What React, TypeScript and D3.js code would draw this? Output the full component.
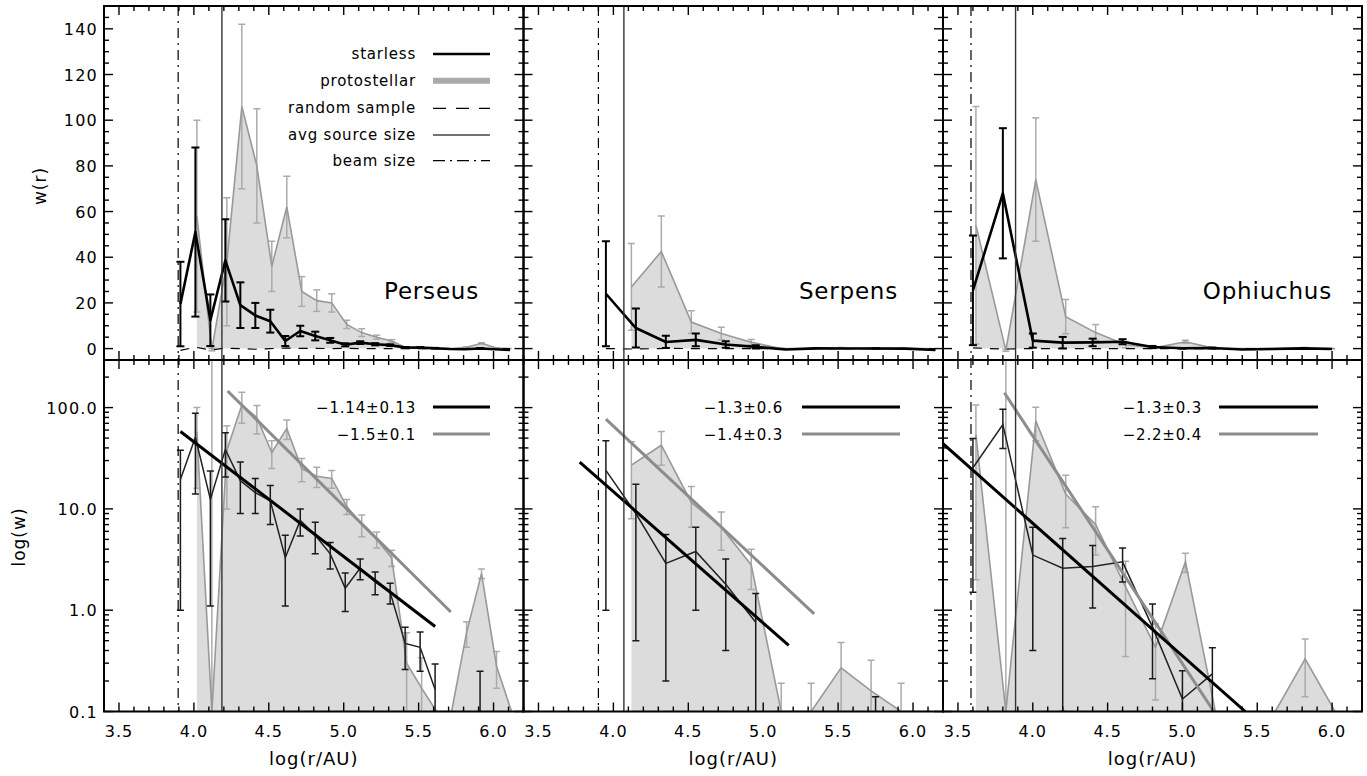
import React, { useEffect, useRef } from "react";
import * as d3 from "d3";

// ---- values ----
const regionNames = ["Perseus", "Serpens", "Ophiuchus"];

// Perseus
const perseusStarlessX = [3.91, 4.01, 4.11, 4.21, 4.31, 4.41, 4.51, 4.61, 4.71, 4.81, 4.91, 5.01, 5.11, 5.21, 5.31, 5.41, 5.51, 5.61, 5.71, 5.81, 5.91, 6.01, 6.11];
const perseusStarlessW = [19.5, 51, 12.4, 38.6, 19, 14.5, 12, 3.3, 7.7, 5.5, 3.6, 1.65, 2.6, 1.9, 1.5, 0.47, 0.43, 0.165, -0.2, -0.3, 0.05, -0.3, -0.6];
const perseusStarlessErr = [18.5, 37, 11.3, 18, 10, 5.5, 5, 2.2, 2.3, 1.9, 1.05, 0.68, 0.6, 0.48, 0.35, 0.21, 0.18, 0.13, 0, 0, 0.2, 0, 0];
const perseusProtoX = [4.02, 4.12, 4.22, 4.32, 4.42, 4.52, 4.62, 4.72, 4.82, 4.92, 5.02, 5.12, 5.22, 5.32, 5.42, 5.52, 5.62, 5.72, 5.82, 5.92, 6.02, 6.12];
const perseusProtoW = [58, -0.5, 38, 106, 80, 36, 62, 25, 21, 20, 10.6, 7, 5, 3.3, 0.3, 0.17, 0, 0, 0.6, 2.3, 0.28, 0];
const perseusProtoErr = [42, 0.5, 28, 36, 25, 11, 13.5, 6.5, 4.7, 4, 1.8, 1.7, 0.9, 0.6, 0.3, 0.17, 0, 0, 0.17, 0.25, 0.11, 0];
const perseusRandomW = [-0.8, 0.6, -0.6, 0.2, 0, -0.3, 0, 0.2, 0.1, 0.1, 0, 0.1, 0, 0, 0, 0, 0, 0, 0, 0, 0, 0, 0];

// Serpens
const serpensStarlessX = [3.95, 4.15, 4.35, 4.55, 4.75, 4.95, 5.15, 5.35, 5.55, 5.75, 5.95, 6.15];
const serpensStarlessW = [24, 9, 2.9, 3.8, 1.8, 0.76, -0.4, 0.1, 0.05, 0.05, 0, -0.6];
const serpensStarlessErr = [23, 8.5, 2.7, 2.8, 1.4, 0.7, 0, 0, 0, 0.09, 0, 0];
const serpensProtoX = [4.12, 4.32, 4.52, 4.72, 4.92, 5.12, 5.32, 5.52, 5.72, 5.92, 6.12];
const serpensProtoW = [27, 42.5, 11.6, 6.6, 2.8, 0, 0, 0.27, 0.16, 0, 0];
const serpensProtoErr = [19, 15.5, 5, 2.7, 1.2, 0.19, 0.19, 0.21, 0.16, 0.19, 0];
const serpensRandomW = [0, -0.2, 0.1, 0, 0, 0, 0, 0, 0, 0, 0, 0];

// Ophiuchus
const ophiuchusStarlessX = [3.6, 3.8, 4.0, 4.2, 4.4, 4.6, 4.8, 5.0, 5.2, 5.4, 5.6, 5.8, 6.0];
const ophiuchusStarlessW = [25.5, 68, 3.5, 2.6, 2.7, 3.0, 0.68, 0.133, 0.235, -0.4, -0.2, 0.08, -0.2];
const ophiuchusStarlessErr = [24, 28.5, 3.1, 2.5, 1.65, 1.1, 0.47, 0.12, 0.19, 0, 0, 0, 0];
const ophiuchusProtoX = [3.62, 3.82, 4.02, 4.22, 4.42, 4.62, 4.82, 5.02, 5.22, 5.42, 5.62, 5.82, 6.02];
const ophiuchusProtoW = [54, -0.8, 74, 14, 7, 1.7, 0.43, 3.0, 0, 0, 0, 0.33, 0];
const ophiuchusProtoErr = [52, 0.4, 27, 7.5, 3.5, 1.35, 0.3, 0.65, 0, 0, 0, 0.19, 0];
const ophiuchusRandomW = [0.3, -0.2, 0, 0, 0, 0, 0, 0, 0, 0, 0, 0, 0];

// beam size and average source size, log(r/AU)
const beamSize = [3.895, 3.9, 3.587];
const sourceSize = [4.187, 4.07, 3.885];

// power-law fits (end points in the log panels)
const starlessFitX = [[3.91, 5.61], [3.775, 5.17], [3.4, 5.42]];
const starlessFitW = [[58, 0.69], [29, 0.45], [44, 0.1]];
const protoFitX = [[4.225, 5.715], [3.95, 5.34], [3.81, 5.21]];
const protoFitW = [[146, 0.96], [77, 0.92], [140, 0.1]];
const starlessFitLabels = ["\u22121.14\u00b10.13", "\u22121.3\u00b10.6", "\u22121.3\u00b10.3"];
const protoFitLabels = ["\u22121.5\u00b10.1", "\u22121.4\u00b10.3", "\u22122.2\u00b10.4"];

const legendLabels = ["starless", "protostellar", "random sample", "avg source size", "beam size"];

const xTicks = [3.5, 4.0, 4.5, 5.0, 5.5, 6.0];
const linTicks = [0, 20, 40, 60, 80, 100, 120, 140];
const logTicks = [0.1, 1, 10, 100];

// ---- layout ----
const W = 1367, H = 776;
const edgesX = [104, 523.5, 943, 1362];
const topY0 = 6, midY = 360, botY1 = 711.5;
const FONT = "DejaVu Sans";
const fitLegendPos = [
  { text: 416, l0: 433, l1: 490 },
  { text: 783, l0: 802, l1: 900 },
  { text: 1202, l0: 1219, l1: 1318 },
];
const labelEnd = [479, 898, 1332];

const panels = [
  { sx: perseusStarlessX, sw: perseusStarlessW, se: perseusStarlessErr, px: perseusProtoX, pw: perseusProtoW, pe: perseusProtoErr, rw: perseusRandomW },
  { sx: serpensStarlessX, sw: serpensStarlessW, se: serpensStarlessErr, px: serpensProtoX, pw: serpensProtoW, pe: serpensProtoErr, rw: serpensRandomW },
  { sx: ophiuchusStarlessX, sw: ophiuchusStarlessW, se: ophiuchusStarlessErr, px: ophiuchusProtoX, pw: ophiuchusProtoW, pe: ophiuchusProtoErr, rw: ophiuchusRandomW },
];

export default function App() {
  const ref = useRef<SVGSVGElement>(null);

  useEffect(() => {
    const svg = d3.select(ref.current);
    svg.selectAll("*").remove();
    const defs = svg.append("defs");

    svg.append("rect").attr("width", W).attr("height", H).attr("fill", "#fff");

    panels.forEach((p, i) => {
      const x0 = edgesX[i], x1 = edgesX[i + 1];
      const x = d3.scaleLinear().domain([3.4, 6.2]).range([x0, x1]);
      const yT = d3.scaleLinear().domain([-5, 150]).range([midY, topY0]);
      const yB = d3.scaleLog().domain([0.1, 295]).range([botY1, midY]);

      defs.append("clipPath").attr("id", `ct${i}`)
        .append("rect").attr("x", x0).attr("y", topY0).attr("width", x1 - x0).attr("height", midY - topY0);
      defs.append("clipPath").attr("id", `cb${i}`)
        .append("rect").attr("x", x0).attr("y", midY).attr("width", x1 - x0).attr("height", botY1 - midY);

      const starless = p.sx.map((v, k) => ({ x: v, w: p.sw[k], e: p.se[k] }));
      const proto = p.px.map((v, k) => ({ x: v, w: p.pw[k], e: p.pe[k] }));
      const random = p.sx.map((v, k) => ({ x: v, w: p.rw[k] }));

      // ---------- top: linear w(r) ----------
      const gT = svg.append("g").attr("clip-path", `url(#ct${i})`);
      gT.append("path")
        .attr("d", d3.area<any>().x(d => x(d.x)).y0(yT(0)).y1(d => yT(d.w))(proto))
        .attr("fill", "#dcdcdc");

      const errBars = (g: any, data: any[], y: (v: number) => number, color: string, sw: number, cap: number) => {
        data.filter(d => d.e > 0).forEach(d => {
          const cx = x(d.x), hi = d.w + d.e, lo = d.w - d.e;
          const yHi = y(hi);
          const yLo = lo > 0 || y === yT ? y(lo) : botY1 + 20;
          g.append("line").attr("x1", cx).attr("x2", cx).attr("y1", yLo).attr("y2", yHi)
            .attr("stroke", color).attr("stroke-width", sw);
          g.append("line").attr("x1", cx - cap).attr("x2", cx + cap).attr("y1", yHi).attr("y2", yHi)
            .attr("stroke", color).attr("stroke-width", sw);
          g.append("line").attr("x1", cx - cap).attr("x2", cx + cap).attr("y1", yLo).attr("y2", yLo)
            .attr("stroke", color).attr("stroke-width", sw);
        });
      };

      errBars(gT, proto, yT, "#ababab", 1.5, 3.5);
      gT.append("path")
        .attr("d", d3.line<any>().x(d => x(d.x)).y(d => yT(d.w))(proto))
        .attr("fill", "none").attr("stroke", "#999").attr("stroke-width", 1.6);
      gT.append("path")
        .attr("d", d3.line<any>().x(d => x(d.x)).y(d => yT(d.w))(random))
        .attr("fill", "none").attr("stroke", "#000").attr("stroke-width", 1.2)
        .attr("stroke-dasharray", "9,8");
      errBars(gT, starless, yT, "#000", 2, 4);
      gT.append("path")
        .attr("d", d3.line<any>().x(d => x(d.x)).y(d => yT(d.w))(starless))
        .attr("fill", "none").attr("stroke", "#000").attr("stroke-width", 2.6)
        .attr("stroke-linejoin", "round");

      // ---------- bottom: log w ----------
      const floor = (v: number) => Math.max(v, 0.1);
      const gB = svg.append("g").attr("clip-path", `url(#cb${i})`);
      gB.append("path")
        .attr("d", d3.area<any>().x(d => x(d.x)).y0(yB(0.1)).y1(d => yB(floor(d.w)))(proto))
        .attr("fill", "#dcdcdc");
      errBars(gB, proto, yB, "#ababab", 1.5, 3.5);
      gB.append("path")
        .attr("d", d3.line<any>().x(d => x(d.x)).y(d => yB(floor(d.w)))(proto))
        .attr("fill", "none").attr("stroke", "#999").attr("stroke-width", 1.6);
      errBars(gB, starless, yB, "#1a1a1a", 1.5, 3.5);
      gB.append("path")
        .attr("d", d3.line<any>().defined(d => d.w > 0).x(d => x(d.x)).y(d => yB(d.w))(starless))
        .attr("fill", "none").attr("stroke", "#222").attr("stroke-width", 1.5);

      // fits
      gB.append("line")
        .attr("x1", x(protoFitX[i][0])).attr("y1", yB(protoFitW[i][0]))
        .attr("x2", x(protoFitX[i][1])).attr("y2", yB(protoFitW[i][1]))
        .attr("stroke", "#8c8c8c").attr("stroke-width", 3);
      gB.append("line")
        .attr("x1", x(starlessFitX[i][0])).attr("y1", yB(starlessFitW[i][0]))
        .attr("x2", x(starlessFitX[i][1])).attr("y2", yB(starlessFitW[i][1]))
        .attr("stroke", "#000").attr("stroke-width", 3);

      // beam and source size markers span both rows
      svg.append("line")
        .attr("x1", x(beamSize[i])).attr("x2", x(beamSize[i]))
        .attr("y1", topY0).attr("y2", botY1)
        .attr("stroke", "#000").attr("stroke-width", 1.2).attr("stroke-dasharray", "10,5,2,5");
      svg.append("line")
        .attr("x1", x(sourceSize[i])).attr("x2", x(sourceSize[i]))
        .attr("y1", topY0).attr("y2", botY1)
        .attr("stroke", "#333").attr("stroke-width", 1.4);

      // fit legend
      const fl = fitLegendPos[i];
      [[starlessFitLabels[i], "#000", 407], [protoFitLabels[i], "#8c8c8c", 434]].forEach(([txt, col, yy]: any) => {
        svg.append("text").attr("x", fl.text).attr("y", yy + 6)
          .attr("text-anchor", "end").attr("font-family", FONT).attr("font-size", 15)
          .attr("letter-spacing", 0.8).attr("fill", "#000").text(txt);
        svg.append("line").attr("x1", fl.l0).attr("x2", fl.l1).attr("y1", yy).attr("y2", yy)
          .attr("stroke", col).attr("stroke-width", 3);
      });

      // region label
      svg.append("text").attr("x", labelEnd[i]).attr("y", 299)
        .attr("text-anchor", "end").attr("font-family", FONT).attr("font-size", 23)
        .attr("letter-spacing", 0.8).text(regionNames[i]);

      // ---------- frames and ticks ----------
      const tick = (xa: number, ya: number, xb: number, yb: number) =>
        svg.append("line").attr("x1", xa).attr("y1", ya).attr("x2", xb).attr("y2", yb)
          .attr("stroke", "#000").attr("stroke-width", 1.4);

      const minorX = d3.range(34, 63).map(k => k / 10);
      [[topY0, midY], [midY, botY1]].forEach(([ya, yb]) => {
        minorX.forEach(v => {
          const major = xTicks.some(t => Math.abs(t - v) < 1e-6);
          const len = major ? 9 : 5;
          const px = x(v);
          tick(px, yb, px, yb - len);
          tick(px, ya, px, ya + len);
        });
      });

      // linear y ticks
      d3.range(0, 150, 5).forEach(v => {
        const major = v % 20 === 0;
        const len = major ? 9 : 5;
        const py = yT(v);
        tick(x0, py, x0 + len, py);
        tick(x1, py, x1 - len, py);
      });
      // log y ticks
      logTicks.forEach(dec => {
        d3.range(1, 10).forEach(m => {
          const v = dec * m;
          if (v > 295) return;
          const len = m === 1 ? 9 : 5;
          const py = yB(v);
          tick(x0, py, x0 + len, py);
          tick(x1, py, x1 - len, py);
        });
      });

      svg.append("rect").attr("x", x0).attr("y", topY0).attr("width", x1 - x0).attr("height", midY - topY0)
        .attr("fill", "none").attr("stroke", "#000").attr("stroke-width", 2);
      svg.append("rect").attr("x", x0).attr("y", midY).attr("width", x1 - x0).attr("height", botY1 - midY)
        .attr("fill", "none").attr("stroke", "#000").attr("stroke-width", 2);

      // x tick labels and title
      xTicks.forEach(v => {
        svg.append("text").attr("x", x(v)).attr("y", 737)
          .attr("text-anchor", "middle").attr("font-family", FONT).attr("font-size", 16)
          .attr("letter-spacing", 1).text(v.toFixed(1));
      });
      svg.append("text").attr("x", (x0 + x1) / 2).attr("y", 765)
        .attr("text-anchor", "middle").attr("font-family", FONT).attr("font-size", 18)
        .attr("letter-spacing", 1).text("log(r/AU)");

      if (i === 0) {
        linTicks.forEach(v => {
          svg.append("text").attr("x", 98).attr("y", yT(v) + 6)
            .attr("text-anchor", "end").attr("font-family", FONT).attr("font-size", 16)
            .attr("letter-spacing", 1.2).text(v);
        });
        logTicks.forEach(v => {
          svg.append("text").attr("x", 98).attr("y", yB(v) + 6)
            .attr("text-anchor", "end").attr("font-family", FONT).attr("font-size", 16)
            .attr("letter-spacing", 1.2).text(d3.format(".1f")(v));
        });
        svg.append("text").attr("transform", `translate(40,186) rotate(-90)`)
          .attr("text-anchor", "middle").attr("dominant-baseline", "central")
          .attr("font-family", FONT).attr("font-size", 17).attr("letter-spacing", 1).text("w(r)");
        svg.append("text").attr("transform", `translate(19,537) rotate(-90)`)
          .attr("text-anchor", "middle").attr("dominant-baseline", "central")
          .attr("font-family", FONT).attr("font-size", 17).attr("letter-spacing", 1).text("log(w)");

        // main legend
        const rows = [54, 80.7, 108.3, 135, 160.7];
        const styles = [
          { stroke: "#000", w: 2.6, dash: null },
          { stroke: "#aaa", w: 6, dash: null },
          { stroke: "#000", w: 1.2, dash: "13,10" },
          { stroke: "#444", w: 1.5, dash: null },
          { stroke: "#000", w: 1.2, dash: "12,5,2,5" },
        ];
        legendLabels.forEach((lab, k) => {
          svg.append("text").attr("x", 416).attr("y", rows[k] + 5)
            .attr("text-anchor", "end").attr("font-family", FONT).attr("font-size", 15)
            .attr("letter-spacing", 0.8).text(lab);
          const ln = svg.append("line").attr("x1", 433).attr("x2", 490).attr("y1", rows[k]).attr("y2", rows[k])
            .attr("stroke", styles[k].stroke).attr("stroke-width", styles[k].w);
          if (styles[k].dash) ln.attr("stroke-dasharray", styles[k].dash);
        });
      }
    });
  }, []);

  return (
    <svg ref={ref} width={W} height={H}
      style={{ position: "absolute", left: 0, top: 0, display: "block" }} />
  );
}
